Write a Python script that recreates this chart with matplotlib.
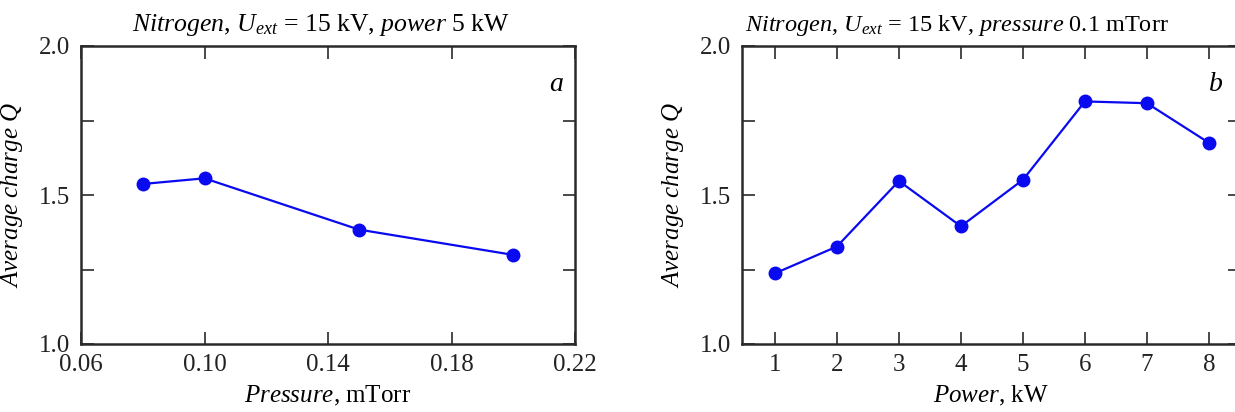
import matplotlib
matplotlib.use('Agg')
import matplotlib.pyplot as plt
from matplotlib.ticker import MultipleLocator

plt.rcParams['font.family'] = ['Liberation Serif', 'DejaVu Serif']
plt.rcParams['mathtext.fontset'] = 'custom'
plt.rcParams['mathtext.rm'] = 'Liberation Serif'
plt.rcParams['mathtext.it'] = 'Liberation Serif:italic'

# donnees panneau a : charge moyenne en fonction de la pression
pressure = [0.08, 0.10, 0.15, 0.20]
charge_p = [1.537, 1.556, 1.384, 1.299]

# donnees panneau b : charge moyenne en fonction de la puissance
power = [1, 2, 3, 4, 5, 6, 7, 8]
charge_w = [1.237, 1.327, 1.547, 1.395, 1.551, 1.814, 1.808, 1.675]

fig = plt.figure(figsize=(12.35, 4.12), dpi=100)
ax1 = fig.add_axes([81/1235, 68/412, 494/1235, 298/412])
ax2 = fig.add_axes([742/1235, 68/412, 498/1235, 298/412])

fs = 18
spine_col = '#2a2a2a'

def style(ax):
    for s in ax.spines.values():
        s.set_linewidth(1.8)
        s.set_color(spine_col)
    ax.tick_params(which='both', direction='in', top=True, right=True,
                   length=9, width=1.2, color=spine_col, labelsize=fs,
                   labelcolor='#222222')
    ax.tick_params(axis='y', pad=8)
    ax.tick_params(axis='x', pad=7)
    ax.set_ylim(1.0, 2.0)
    ax.set_yticks([1.0, 1.5, 2.0])
    ax.yaxis.set_minor_locator(MultipleLocator(0.25))
    ax.set_ylabel('$Average\\ charge\\ Q$', fontsize=fs, labelpad=10)

# panneau a
ax1.plot(pressure, charge_p, '-o', color='#0a0af0', lw=1.6, ms=9)
ax1.set_xlim(0.06, 0.22)
ax1.set_xticks([0.06, 0.10, 0.14, 0.18, 0.22])
ax1.set_xticklabels(['0.06', '0.10', '0.14', '0.18', '0.22'])
style(ax1)
ax1.set_xlabel('$Pressure$, mTorr', fontsize=fs, labelpad=6)
fig.text(321/1235, 1 - 31/412, '$Nitrogen$, $U_{ext}$ = 15 kV, $power$ 5 kW',
         fontsize=18.5, ha='center', va='baseline')
ax1.text(0.978, 0.87, '$a$', transform=ax1.transAxes, fontsize=fs + 2,
         ha='right', va='center')

# panneau b
ax2.plot(power, charge_w, '-o', color='#0a0af0', lw=1.6, ms=9)
ax2.set_xlim(0.47, 8.5)
ax2.set_xticks(power)
style(ax2)
ax2.set_xlabel('$Power$, kW', fontsize=fs, labelpad=6)
fig.text(957/1235, 1 - 31/412, '$Nitrogen$, $U_{ext}$ = 15 kV, $pressure$ 0.1 mTorr',
         fontsize=17.5, ha='center', va='baseline')
ax2.text(0.965, 0.87, '$b$', transform=ax2.transAxes, fontsize=fs + 2,
         ha='right', va='center')

fig.savefig('out.png', dpi=100)
